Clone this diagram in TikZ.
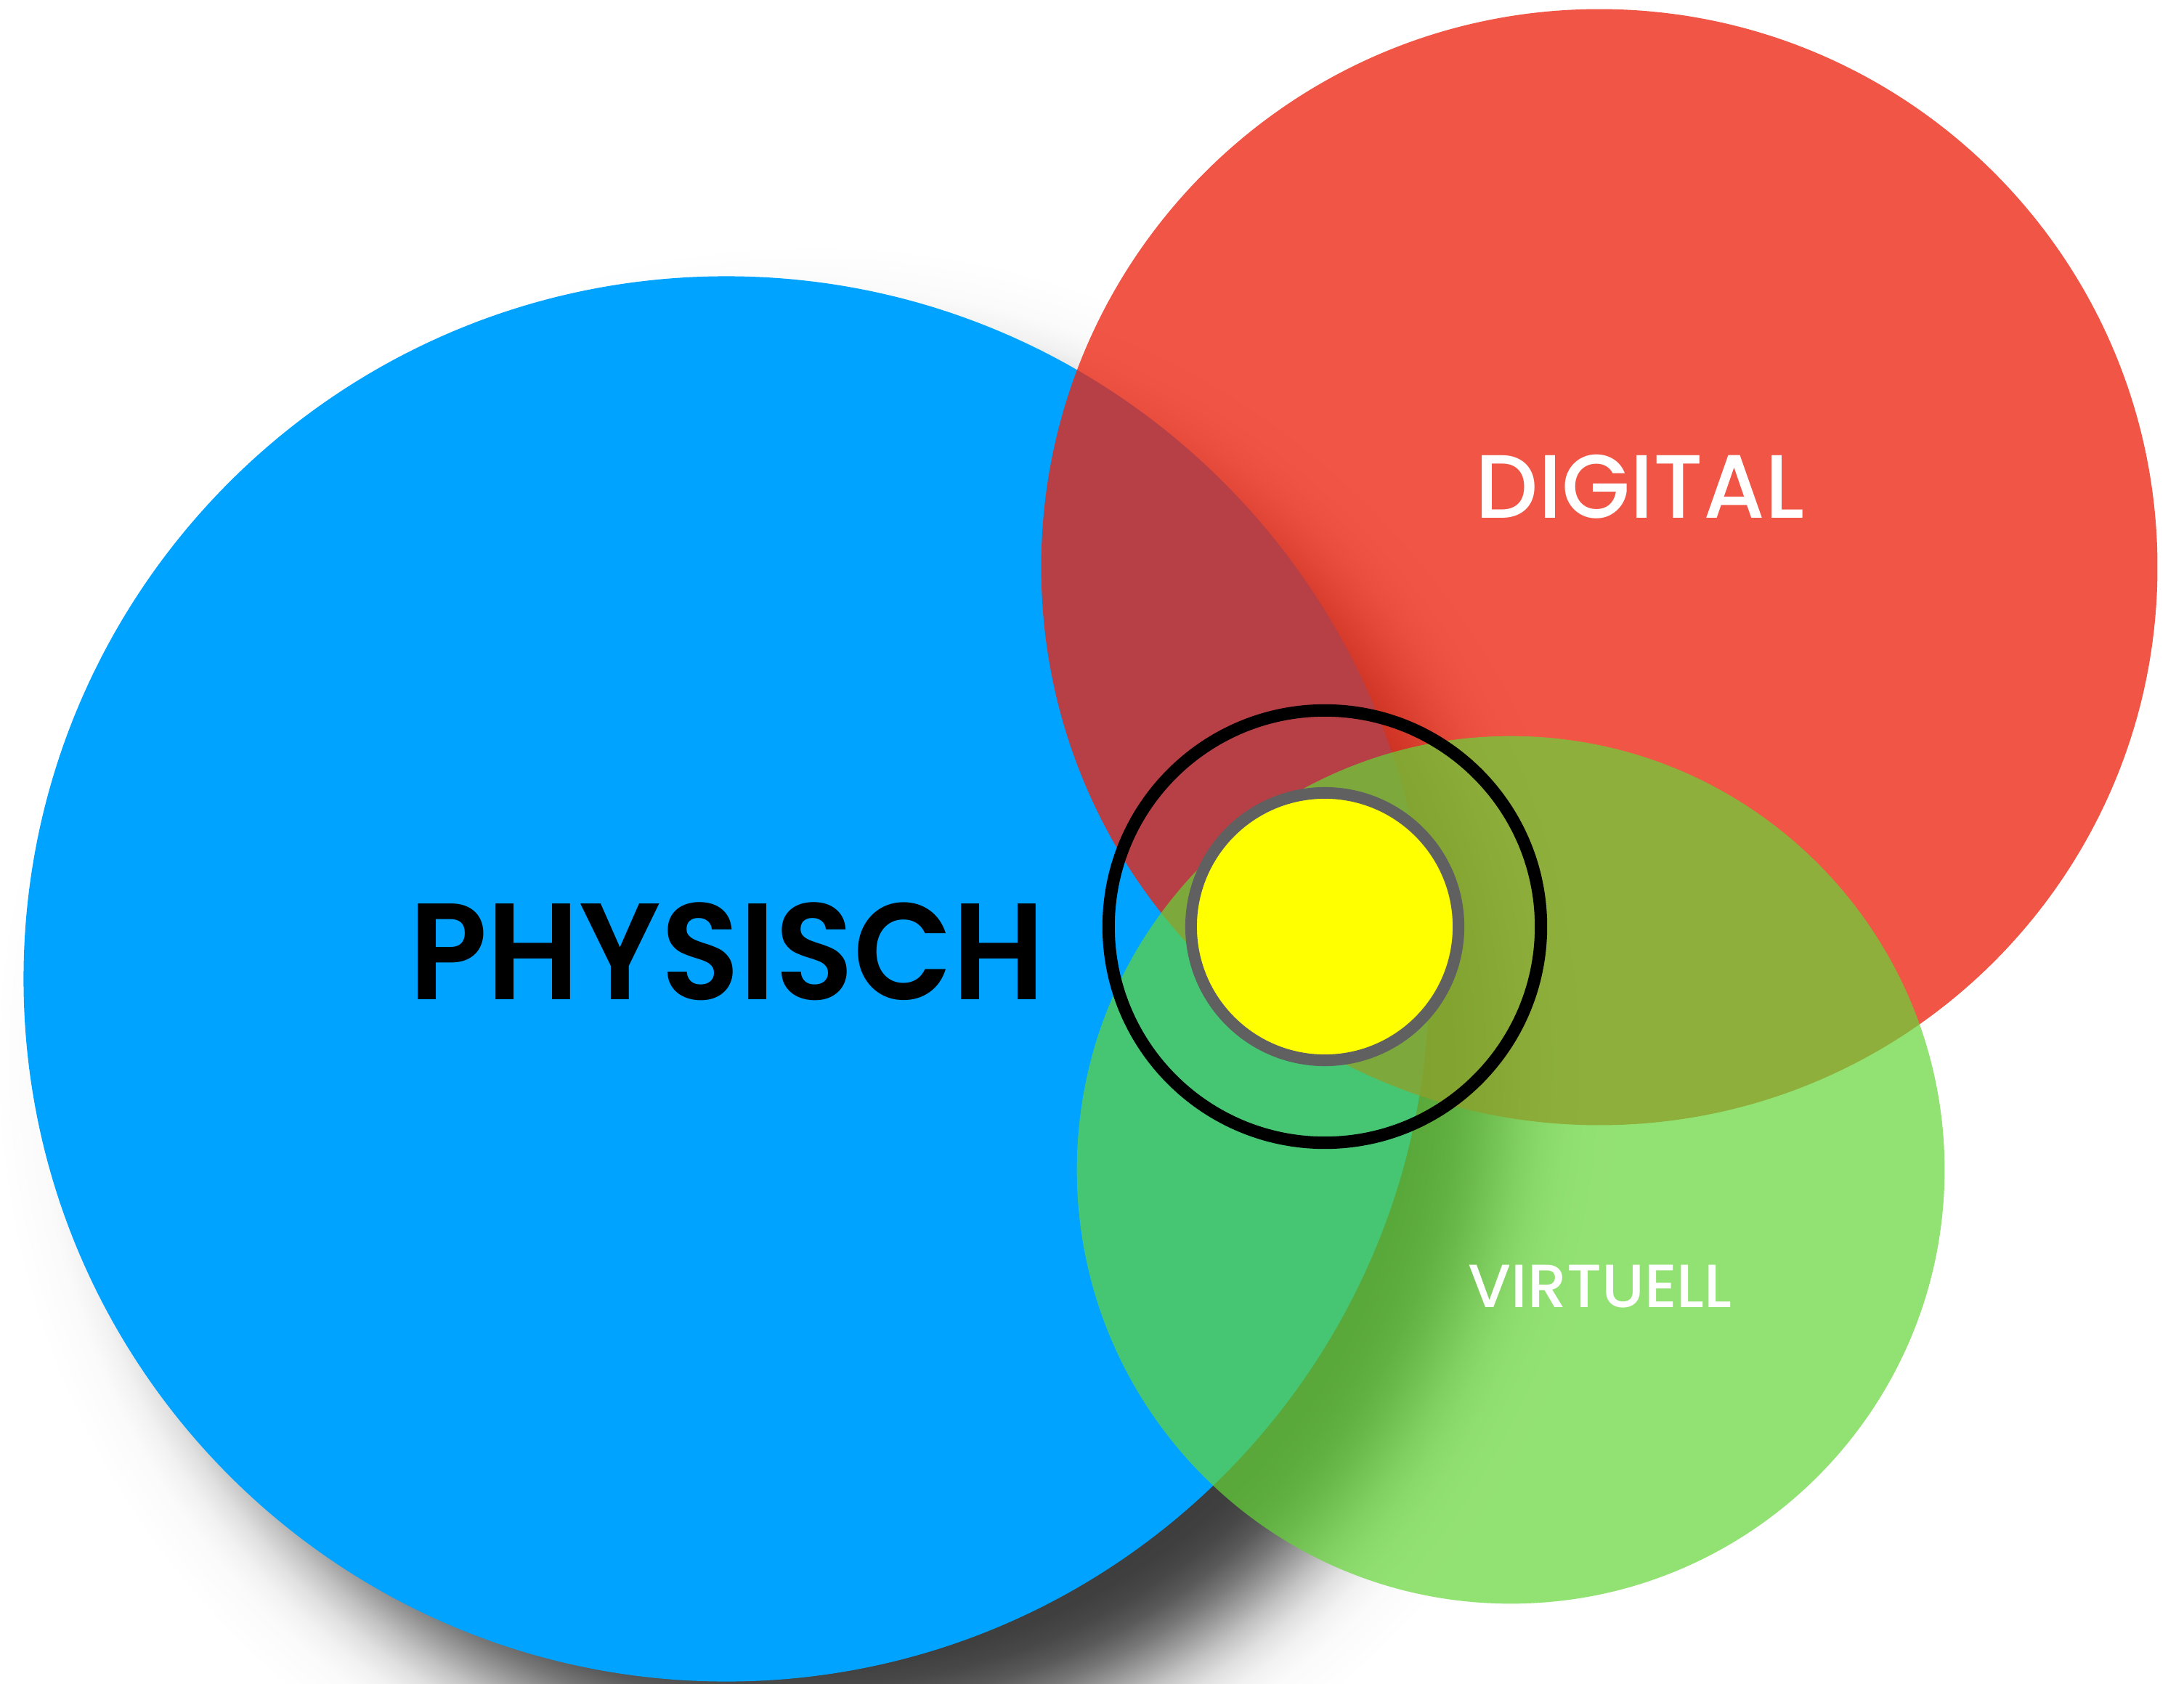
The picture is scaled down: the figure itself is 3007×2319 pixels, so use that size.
\documentclass[tikz,border=0pt]{standalone}
\usepackage{graphicx}
\usepackage{fontspec}
\newfontfamily\popsb{Poppins}[UprightFont={* SemiBold}]
\newfontfamily\popmd{Poppins}[UprightFont={* Medium}]
\definecolor{bluec}{RGB}{0,163,255}
\definecolor{redc}{RGB}{237,35,15}
\definecolor{greenc}{RGB}{101,214,56}
\definecolor{ringgray}{RGB}{96,96,96}
\definecolor{sunyellow}{RGB}{255,255,0}
\pgfdeclareradialshading{blueshadow}{\pgfpointorigin}{%
rgb(0bp)=(0.231,0.231,0.231);
rgb(17.01bp)=(0.231,0.231,0.231);
rgb(18.35bp)=(0.248,0.248,0.248);
rgb(19.01bp)=(0.282,0.282,0.282);
rgb(19.68bp)=(0.352,0.352,0.352);
rgb(20.34bp)=(0.468,0.468,0.468);
rgb(21.01bp)=(0.615,0.615,0.615);
rgb(21.67bp)=(0.762,0.762,0.762);
rgb(22.34bp)=(0.878,0.878,0.878);
rgb(23bp)=(0.948,0.948,0.948);
rgb(23.67bp)=(0.982,0.982,0.982);
rgb(25bp)=(1,1,1);
rgb(50bp)=(1,1,1)}
\tikzset{
  label/.style={inner sep=0pt, outer sep=0pt},
  ring/.style={line width=#1},
}
\begin{document}
\begin{tikzpicture}[x=0.01cm,y=-0.01cm]
\clip (0,0) rectangle (3007,2319);
\fill[white] (0,0) rectangle (3007,2319);
% shadow of the blue circle
\shade[shading=blueshadow] (1120,1463) circle (11.27cm);
% circles
\fill[bluec] (1000,1348) circle (9.67cm);
\fill[redc, fill opacity=0.77] (2202,781) circle (7.68cm);
\fill[greenc, fill opacity=0.7] (2080,1611) circle (5.97cm);
% centre
\fill[sunyellow] (1824,1276) circle (1.84cm);
\draw[ringgray, ring=0.16cm] (1824,1276) circle (1.84cm);
\draw[black, ring=0.17cm] (1824,1276) circle (2.975cm);
% labels
\node[label, text=black] (phys) at (1001,1310) {\resizebox*{8.75cm}{1.35cm}{\popsb PHYSISCH}};
\node[label, text=white] (digi) at (2258,670) {\resizebox*{4.52cm}{0.88cm}{\popmd DIGITAL}};
\node[label, text=white] (virt) at (2203,1772) {\resizebox*{3.63cm}{0.59cm}{\popmd VIRTUELL}};
\end{tikzpicture}
\end{document}
